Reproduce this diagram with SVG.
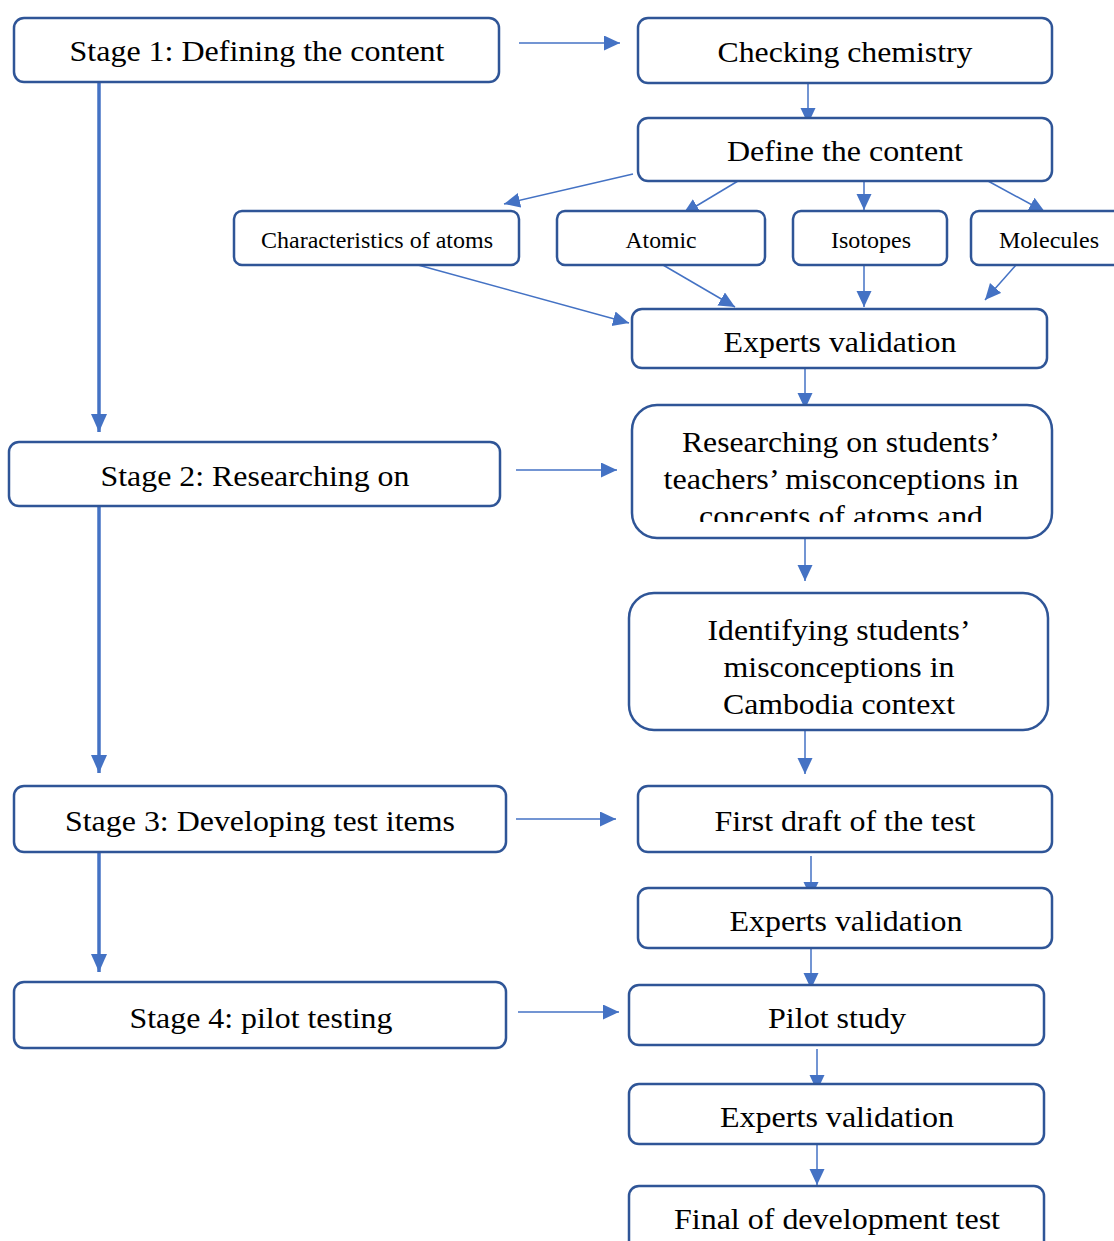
<svg xmlns="http://www.w3.org/2000/svg" width="1114" height="1241" viewBox="0 0 1114 1241">
<style>
.box{fill:#fff;stroke:#2F5597;stroke-width:2.5}
.t{font-family:"Liberation Serif","Times New Roman",serif;font-size:30px;fill:#000;text-anchor:middle}
.s{font-family:"Liberation Serif","Times New Roman",serif;font-size:23px;fill:#000;text-anchor:middle}
.c{fill:none;stroke:#4472C4;stroke-width:1.5}
.k{fill:none;stroke:#4472C4;stroke-width:3.5}
</style>
<defs>
<marker id="a" markerUnits="userSpaceOnUse" markerWidth="18" markerHeight="16" refX="16" refY="7.5" orient="auto"><path d="M0,0 L16,7.5 L0,15 z" fill="#4472C4"/></marker>
<marker id="b" markerUnits="userSpaceOnUse" markerWidth="20" markerHeight="18" refX="18" refY="8" orient="auto"><path d="M0,0 L18,8 L0,16 z" fill="#4472C4"/></marker>
<clipPath id="clipR"><rect x="632" y="405" width="420" height="117"/></clipPath>
</defs>
<rect width="1114" height="1241" fill="#fff"/>
<g id="connectors">
<line class="k" x1="99" y1="83" x2="99" y2="432" marker-end="url(#b)"/>
<line class="k" x1="99" y1="506" x2="99" y2="773" marker-end="url(#b)"/>
<line class="k" x1="99" y1="852" x2="99" y2="972" marker-end="url(#b)"/>
<line class="c" x1="519" y1="43" x2="620" y2="43" marker-end="url(#a)"/>
<line class="c" x1="516" y1="470" x2="617" y2="470" marker-end="url(#a)"/>
<line class="c" x1="516" y1="819" x2="616" y2="819" marker-end="url(#a)"/>
<line class="c" x1="518" y1="1012" x2="619" y2="1012" marker-end="url(#a)"/>
<line class="c" x1="808" y1="83" x2="808" y2="124" marker-end="url(#a)"/>
<line class="c" x1="633" y1="174" x2="504" y2="204" marker-end="url(#a)"/>
<line class="c" x1="738" y1="181" x2="683" y2="214" marker-end="url(#a)"/>
<line class="c" x1="864" y1="181" x2="864" y2="210" marker-end="url(#a)"/>
<line class="c" x1="988" y1="181" x2="1045" y2="212" marker-end="url(#a)"/>
<line class="c" x1="418" y1="265" x2="629" y2="323" marker-end="url(#a)"/>
<line class="c" x1="663" y1="265" x2="735" y2="307" marker-end="url(#a)"/>
<line class="c" x1="864" y1="265" x2="864" y2="307" marker-end="url(#a)"/>
<line class="c" x1="1016" y1="265" x2="985" y2="300" marker-end="url(#a)"/>
<line class="c" x1="805" y1="368" x2="805" y2="409" marker-end="url(#a)"/>
<line class="c" x1="805" y1="538" x2="805" y2="581" marker-end="url(#a)"/>
<line class="c" x1="805" y1="730" x2="805" y2="774" marker-end="url(#a)"/>
<line class="c" x1="811" y1="856" x2="811" y2="898" marker-end="url(#a)"/>
<line class="c" x1="811" y1="948" x2="811" y2="989" marker-end="url(#a)"/>
<line class="c" x1="817" y1="1049" x2="817" y2="1091" marker-end="url(#a)"/>
<line class="c" x1="817" y1="1145" x2="817" y2="1185" marker-end="url(#a)"/>
</g>
<g id="stage1"><rect class="box" x="14" y="18" width="485" height="64" rx="10"/><text class="t" x="257" y="61" textLength="375" lengthAdjust="spacingAndGlyphs">Stage 1: Defining the content</text></g>
<g id="checking"><rect class="box" x="638" y="18" width="414" height="65" rx="10"/><text class="t" x="845" y="62" textLength="255" lengthAdjust="spacingAndGlyphs">Checking chemistry</text></g>
<g id="define"><rect class="box" x="638" y="118" width="414" height="63" rx="10"/><text class="t" x="845" y="161" textLength="236" lengthAdjust="spacingAndGlyphs">Define the content</text></g>
<g id="characteristics"><rect class="box" x="234" y="211" width="285" height="54" rx="8"/><text class="s" x="377" y="248" textLength="232" lengthAdjust="spacingAndGlyphs">Characteristics of atoms</text></g>
<g id="atomic"><rect class="box" x="557" y="211" width="208" height="54" rx="8"/><text class="s" x="661" y="248" textLength="71" lengthAdjust="spacingAndGlyphs">Atomic</text></g>
<g id="isotopes"><rect class="box" x="793" y="211" width="154" height="54" rx="8"/><text class="s" x="871" y="248" textLength="80" lengthAdjust="spacingAndGlyphs">Isotopes</text></g>
<g id="molecules"><rect class="box" x="971" y="211" width="160" height="54" rx="8"/><text class="s" x="1049" y="248" textLength="100" lengthAdjust="spacingAndGlyphs">Molecules</text></g>
<g id="experts1"><rect class="box" x="632" y="309" width="415" height="59" rx="10"/><text class="t" x="840" y="352" textLength="233" lengthAdjust="spacingAndGlyphs">Experts validation</text></g>
<g id="researching"><rect class="box" x="632" y="405" width="420" height="133" rx="25"/>
<g clip-path="url(#clipR)">
<text class="t" x="841" y="452" textLength="318" lengthAdjust="spacingAndGlyphs">Researching on students’</text>
<text class="t" x="841" y="489" textLength="355" lengthAdjust="spacingAndGlyphs">teachers’ misconceptions in</text>
<text class="t" x="841" y="526" textLength="284" lengthAdjust="spacingAndGlyphs">concepts of atoms and</text>
</g></g>
<g id="stage2"><rect class="box" x="9" y="442" width="491" height="64" rx="10"/><text class="t" x="255" y="486" textLength="309" lengthAdjust="spacingAndGlyphs">Stage 2: Researching on</text></g>
<g id="identifying"><rect class="box" x="629" y="593" width="419" height="137" rx="25"/>
<text class="t" x="839" y="640" textLength="263" lengthAdjust="spacingAndGlyphs">Identifying students’</text>
<text class="t" x="839" y="677" textLength="231" lengthAdjust="spacingAndGlyphs">misconceptions in</text>
<text class="t" x="839" y="714" textLength="232" lengthAdjust="spacingAndGlyphs">Cambodia context</text></g>
<g id="stage3"><rect class="box" x="14" y="786" width="492" height="66" rx="10"/><text class="t" x="260" y="831" textLength="390" lengthAdjust="spacingAndGlyphs">Stage 3: Developing test items</text></g>
<g id="firstdraft"><rect class="box" x="638" y="786" width="414" height="66" rx="10"/><text class="t" x="845" y="831" textLength="261" lengthAdjust="spacingAndGlyphs">First draft of the test</text></g>
<g id="experts2"><rect class="box" x="638" y="888" width="414" height="60" rx="10"/><text class="t" x="846" y="931" textLength="233" lengthAdjust="spacingAndGlyphs">Experts validation</text></g>
<g id="stage4"><rect class="box" x="14" y="982" width="492" height="66" rx="10"/><text class="t" x="261" y="1028" textLength="263" lengthAdjust="spacingAndGlyphs">Stage 4: pilot testing</text></g>
<g id="pilot"><rect class="box" x="629" y="985" width="415" height="60" rx="10"/><text class="t" x="837" y="1028" textLength="138" lengthAdjust="spacingAndGlyphs">Pilot study</text></g>
<g id="experts3"><rect class="box" x="629" y="1084" width="415" height="60" rx="10"/><text class="t" x="837" y="1127" textLength="234" lengthAdjust="spacingAndGlyphs">Experts validation</text></g>
<g id="final"><rect class="box" x="629" y="1186" width="415" height="80" rx="10"/><text class="t" x="837" y="1229" textLength="326" lengthAdjust="spacingAndGlyphs">Final of development test</text></g>
</svg>
